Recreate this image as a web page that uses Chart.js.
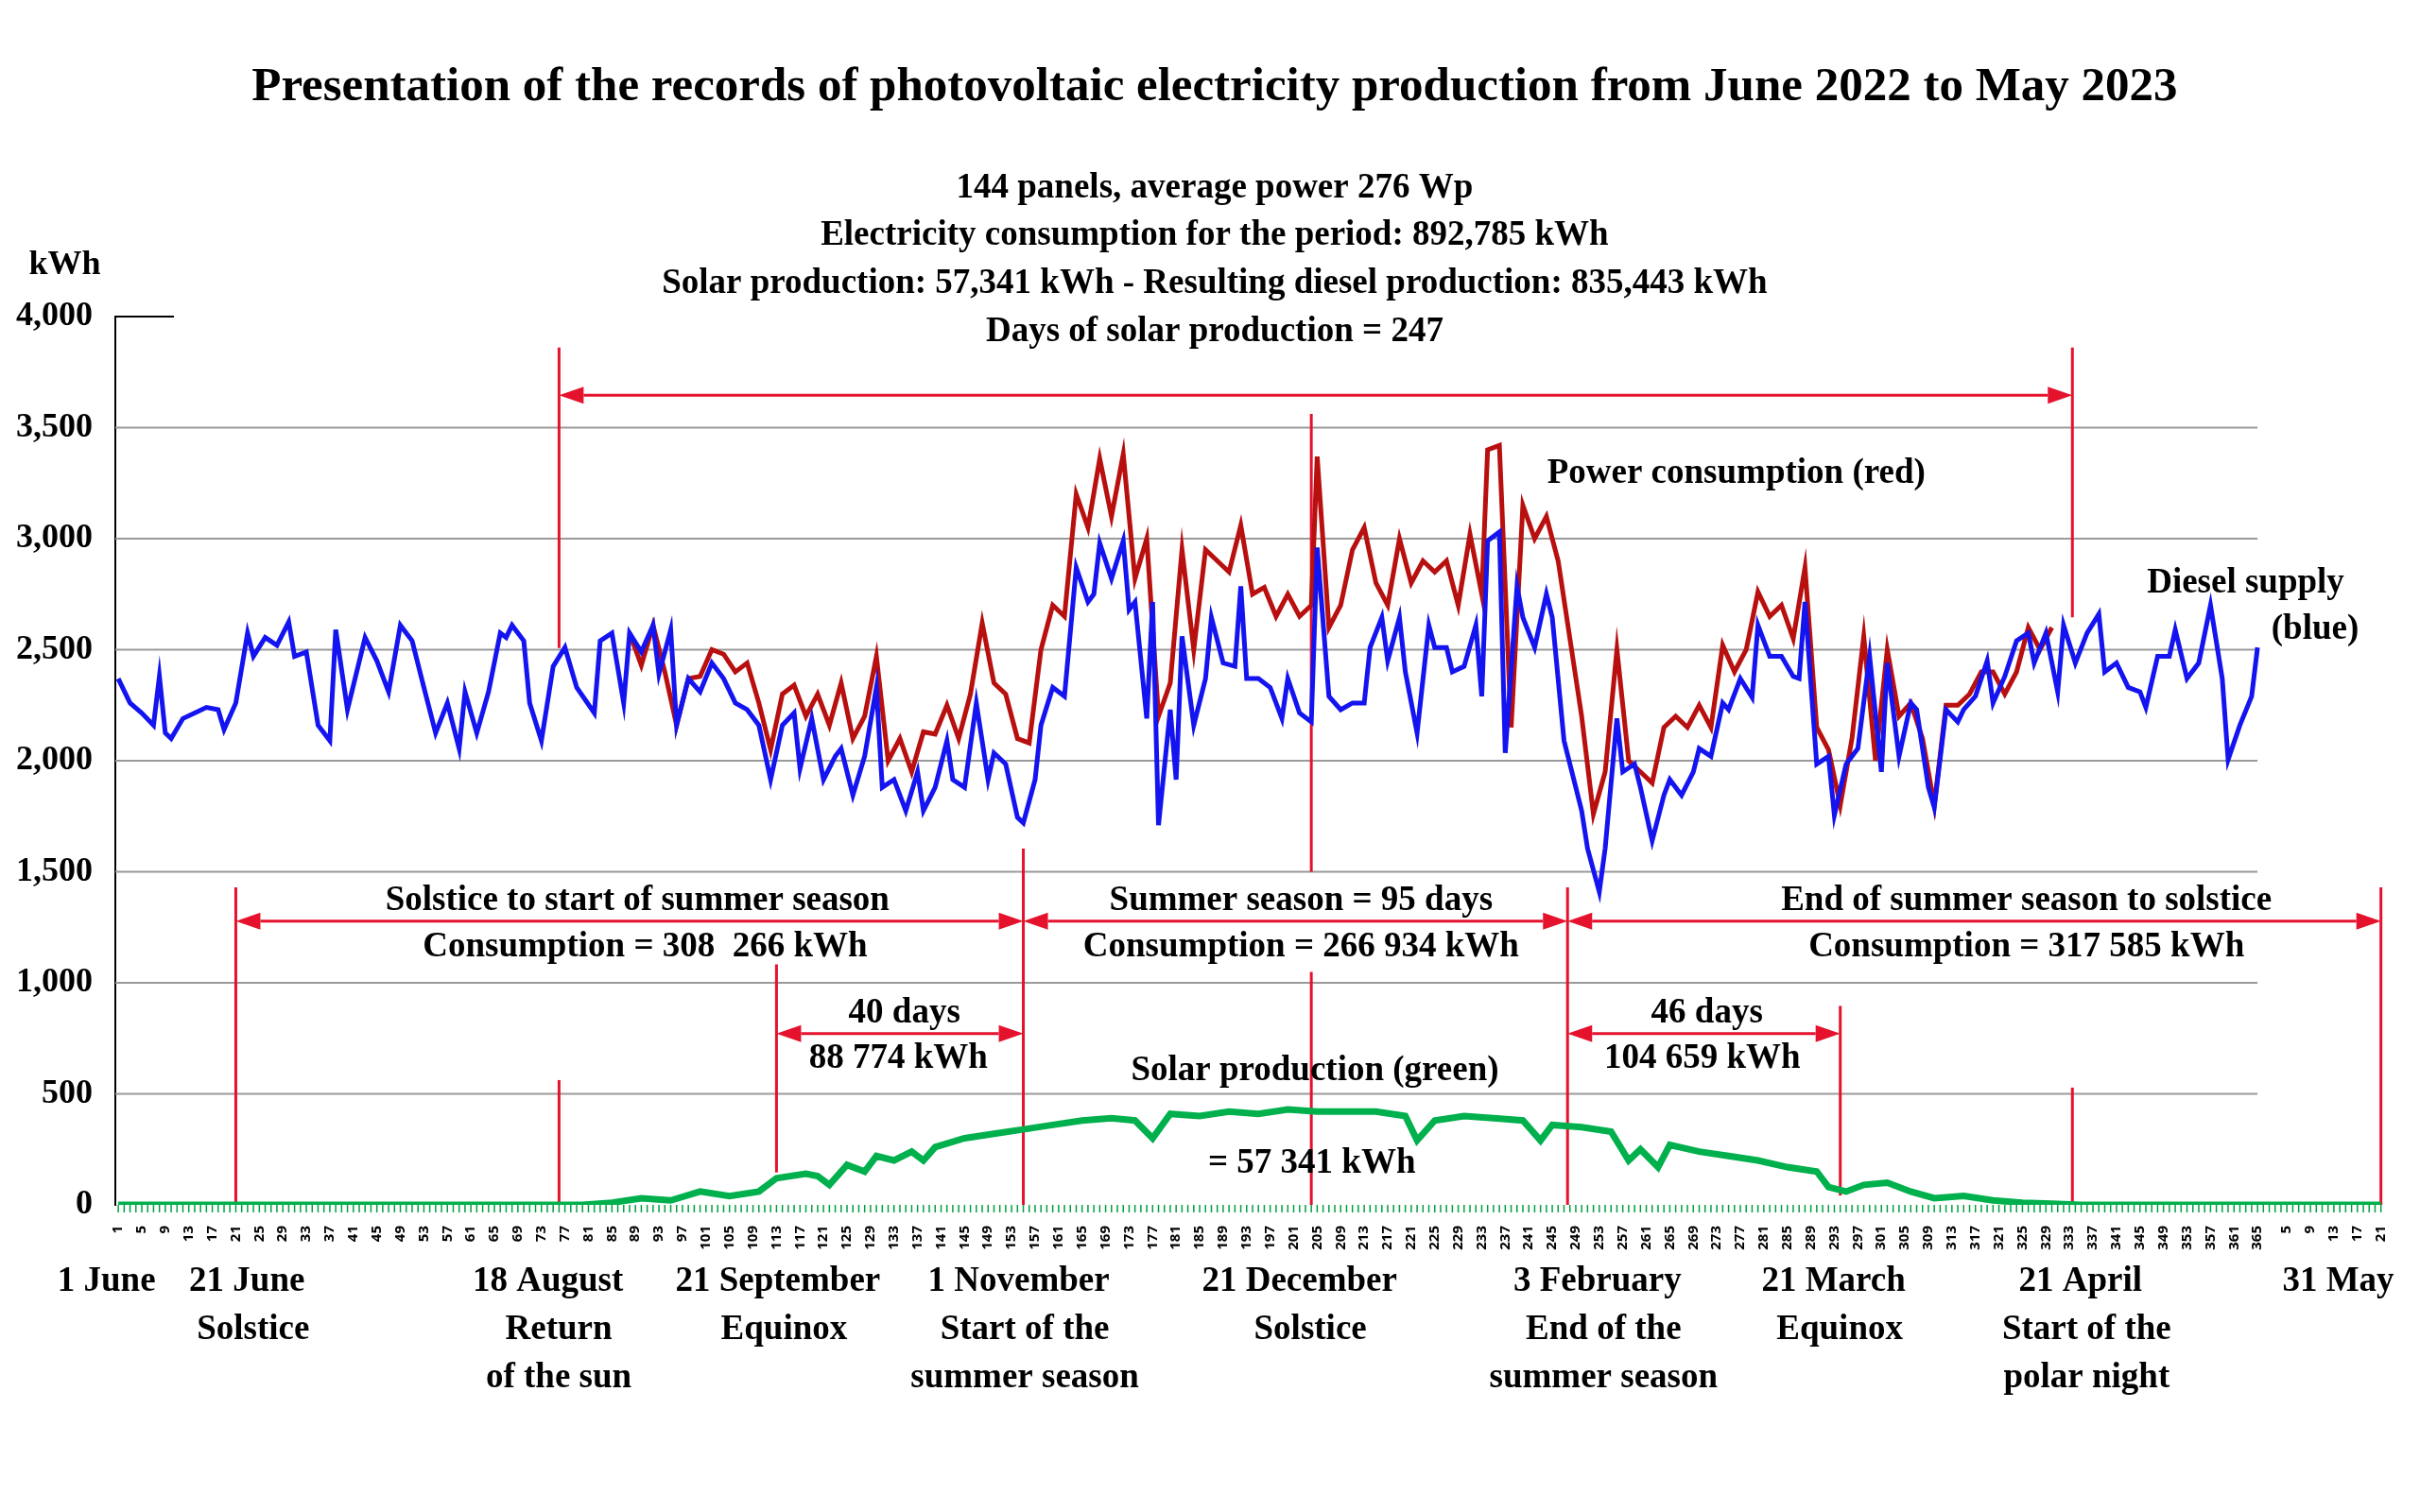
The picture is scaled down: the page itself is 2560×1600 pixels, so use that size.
<!DOCTYPE html>
<html><head><meta charset="utf-8">
<script src="https://cdn.jsdelivr.net/npm/chart.js@4"></script>
<style>html,body{margin:0;padding:0;background:#fff}#wrap{width:2560px;height:1600px}</style>
</head><body><div id="wrap"><canvas id="c" width="2560" height="1600" style="width:2560px;height:1600px"></canvas></div>
<script>
const blueDays=[1,3,5,7,8,9,10,12,14,16,18,19,21,23,24,26,28,30,31,33,35,37,38,40,43,45,47,49,51,53,55,57,59,60,62,64,66,67,68,70,71,73,75,77,79,82,83,85,87,88,90,92,93,95,96,98,100,102,104,106,108,110,112,114,116,117,119,121,123,124,126,128,130,131,133,135,137,138,140,142,143,145,147,149,150,152,154,155,157,158,160,162,164,166,167,168,170,172,173,174,176,177,178,180,181,182,184,186,187,189,191,192,193,195,197,199,200,202,204,205,207,209,211,213,214,216,217,219,220,222,224,225,227,228,230,232,233,234,236,237,239,240,242,244,245,247,249,250,251,253,254,256,257,259,260,262,264,265,267,269,270,272,274,275,277,279,280,282,284,286,287,288,290,292,293,295,297,299,301,302,304,306,307,309,310,312,314,315,317,319,320,322,324,326,327,329,331,332,334,336,338,339,341,343,345,346,348,350,351,353,355,357,359,360,362,364,365];
const blueValues=[2370,2260,2215,2160,2380,2125,2100,2190,2215,2240,2230,2140,2260,2575,2470,2555,2520,2625,2470,2490,2160,2090,2590,2230,2555,2450,2310,2610,2540,2330,2125,2260,2055,2310,2125,2310,2575,2555,2610,2540,2260,2090,2425,2510,2330,2215,2540,2575,2260,2575,2490,2610,2390,2590,2160,2370,2310,2440,2370,2260,2230,2160,1915,2160,2215,1965,2190,1915,2020,2055,1845,2020,2330,1880,1915,1775,1950,1775,1880,2090,1915,1880,2260,1915,2035,1985,1745,1720,1915,2160,2330,2290,2870,2715,2750,2980,2820,2990,2680,2715,2190,2715,1710,2230,1915,2560,2160,2370,2645,2440,2425,2785,2370,2370,2330,2190,2370,2215,2175,2960,2290,2230,2260,2260,2510,2645,2450,2645,2400,2125,2610,2510,2510,2400,2425,2610,2290,2990,3030,2035,2785,2645,2510,2750,2645,2090,1880,1775,1605,1410,1605,2190,1950,1985,1880,1640,1845,1915,1845,1950,2055,2020,2260,2230,2370,2285,2610,2470,2470,2380,2370,2715,1985,2020,1755,1985,2055,2470,1950,2440,2020,2260,2230,1880,1790,2230,2175,2230,2290,2450,2260,2380,2540,2575,2440,2575,2310,2610,2440,2575,2660,2400,2440,2330,2310,2240,2470,2470,2590,2370,2440,2700,2370,2005,2160,2290,2510];
const redDays=[88,90,92,94,96,98,100,102,104,106,108,110,112,114,116,118,120,122,124,126,128,130,132,134,136,138,140,142,144,146,148,150,152,154,156,158,160,162,164,166,168,170,172,174,176,178,180,182,184,186,188,190,192,194,196,198,200,202,204,205,207,209,211,213,215,217,219,221,223,225,227,229,231,233,234,236,238,240,242,244,246,248,250,252,254,256,258,260,262,264,266,268,270,272,274,276,278,280,282,284,286,288,290,292,294,296,298,300,302,304,306,308,310,312,314,316,318,320,322,324,326,328,330];
const redValues=[2575,2430,2610,2400,2160,2370,2380,2500,2480,2400,2440,2260,2050,2300,2340,2200,2300,2160,2350,2100,2200,2470,2000,2100,1950,2130,2120,2250,2100,2300,2620,2350,2300,2100,2080,2500,2700,2650,3200,3050,3360,3100,3380,2820,3000,2200,2350,2950,2500,2950,2900,2850,3060,2750,2780,2650,2750,2650,2700,3370,2600,2700,2950,3050,2800,2700,3000,2800,2900,2850,2900,2700,3020,2750,3400,3420,2150,3150,3000,3100,2900,2550,2200,1760,1950,2500,2000,1950,1900,2150,2200,2150,2250,2150,2520,2400,2500,2760,2650,2700,2550,2870,2150,2050,1800,2100,2560,2000,2500,2200,2260,2100,1800,2250,2250,2300,2400,2400,2300,2400,2600,2500,2600];
const greenDays=[1,80,85,90,95,100,105,110,113,118,120,122,125,128,130,133,136,138,140,145,150,155,160,165,170,174,177,180,185,190,195,200,205,210,215,220,222,225,230,235,240,243,245,250,255,258,260,263,265,270,275,280,285,290,292,295,298,302,306,310,315,320,325,330,335,386];
const greenValues=[0,0,10,30,20,60,40,60,120,140,130,90,180,150,220,200,240,200,260,300,320,340,360,380,390,380,300,410,400,420,410,430,420,420,420,400,290,380,400,390,380,290,360,350,330,200,250,170,270,240,220,200,170,150,80,60,90,100,60,30,40,20,10,5,0,0];
const tickDays=[];for(let d=1;d<=365;d+=4)tickDays.push(d);for(let d=370;d<=386;d+=4)tickDays.push(d);
const tickLabels=tickDays.map(d=>d>365?String(d-365):String(d));
const yTicks=[0,500,1000,1500,2000,2500,3000,3500,4000];

const S=2560/1568;
const serif='"Liberation Serif","Times New Roman",serif';
const pts=(xs,ys)=>xs.map((x,i)=>({x:x,y:ys[i]}));
const RED='#e5122d';
function arrow(ctx,x1,x2,y){
  const h=26,w=9;ctx.strokeStyle=RED;ctx.fillStyle=RED;ctx.lineWidth=3;
  ctx.beginPath();ctx.moveTo(x1+h,y);ctx.lineTo(x2-h,y);ctx.stroke();
  ctx.beginPath();ctx.moveTo(x1,y);ctx.lineTo(x1+h,y-w);ctx.lineTo(x1+h,y+w);ctx.closePath();ctx.fill();
  ctx.beginPath();ctx.moveTo(x2,y);ctx.lineTo(x2-h,y-w);ctx.lineTo(x2-h,y+w);ctx.closePath();ctx.fill();
}
const deco={id:'deco',
 beforeDatasetsDraw(c){
  const ctx=c.ctx,xs=c.scales.x,ys=c.scales.y;ctx.save();
  ctx.strokeStyle='#9a9a9a';ctx.lineWidth=2;
  for(const v of yTicks){if(v===0||v===4000)continue;const y=ys.getPixelForValue(v);
   ctx.beginPath();ctx.moveTo(xs.left,y);ctx.lineTo(xs.getPixelForValue(365),y);ctx.stroke();}
  ctx.strokeStyle='#000';ctx.beginPath();const y4=ys.getPixelForValue(4000);ctx.moveTo(xs.left,y4);ctx.lineTo(xs.left+62,y4);ctx.stroke();
  ctx.strokeStyle='#00a040';ctx.lineWidth=1.5;const yb=ys.getPixelForValue(0);
  for(let d=1;d<=386;d++){const x=xs.getPixelForValue(d);ctx.beginPath();ctx.moveTo(x,yb);ctx.lineTo(x,yb+8);ctx.stroke();}
  ctx.strokeStyle=RED;ctx.lineWidth=3;
  const vl=[[21,1430,0],[76,3861,2507],[76,562,0],[113,1083,146],[155,1604,0],[204,3562,1500],[204,1049,0],[247.6,1430,0],[294,896,42],[333.5,3861,2646],[333.5,528,0],[386,1430,0]];
  for(const [d,a,b] of vl){const x=xs.getPixelForValue(d);ctx.beginPath();ctx.moveTo(x,ys.getPixelForValue(a));ctx.lineTo(x,ys.getPixelForValue(b));ctx.stroke();}
  const X=d=>xs.getPixelForValue(d),Y=v=>ys.getPixelForValue(v);
  arrow(ctx,X(76),X(333.5),Y(3646));
  arrow(ctx,X(21),X(155),Y(1278));arrow(ctx,X(155),X(247.6),Y(1278));arrow(ctx,X(247.6),X(386),Y(1278));
  arrow(ctx,X(113),X(155),Y(771));arrow(ctx,X(247.6),X(294),Y(771));
  ctx.restore();
 },
 afterDraw(c){
  const ctx=c.ctx;ctx.save();ctx.fillStyle='#000';ctx.textAlign='center';ctx.textBaseline='middle';
  const T=(t,x,y,sz)=>{ctx.font='bold '+sz+'px '+serif;ctx.fillText(t,x*S,y*S);};
  T('Presentation of the records of photovoltaic electricity production from June 2022 to May 2023',787,57,51);
  const sub=['144 panels, average power 276 Wp','Electricity consumption for the period: 892,785 kWh','Solar production: 57,341 kWh - Resulting diesel production: 835,443 kWh','Days of solar production = 247'];
  sub.forEach((s,i)=>T(s,787,122+31*i,37));
  T('kWh',42,172,36);
  T('Power consumption (red)',1125,307,37);T('Diesel supply',1455,378,37);T('(blue)',1500,408,37);
  T('Solstice to start of summer season',413,584,37);T('Consumption = 308  266 kWh',418,614,37);
  T('Summer season = 95 days',843,584,37);T('Consumption = 266 934 kWh',843,614,37);
  T('End of summer season to solstice',1313,584,37);T('Consumption = 317 585 kWh',1313,614,37);
  T('40 days',586,657,37);T('88 774 kWh',582,686,37);T('46 days',1106,657,37);T('104 659 kWh',1103,686,37);
  T('Solar production (green)',852,694,37);T('= 57 341 kWh',850,754,37);
  const B=[['1 June',69,[]],['21 June',160,['Solstice']],['18 August',355,['Return','of the sun']],['21 September',504,['Equinox']],['1 November',660,['Start of the','summer season']],['21 December',842,['Solstice']],['3 February',1035,['End of the','summer season']],['21 March',1188,['Equinox']],['21 April',1348,['Start of the','polar night']],['31 May',1515,[]]];
  for(const [a,x,rest] of B){T(a,x,831,37);rest.forEach((r,i)=>T(r,x+(a==='18 August'||a==='21 December'?7:4),862+31*i,37));}
  ctx.restore();
 }};
new Chart(document.getElementById('c'),{
 type:'line',
 data:{datasets:[
  {label:'Diesel supply',data:pts(blueDays,blueValues),borderColor:'#1414f0',borderWidth:5,pointRadius:0,tension:0,order:1},
  {label:'Power consumption',data:pts(redDays,redValues),borderColor:'#b80f0f',borderWidth:5,pointRadius:0,tension:0,order:2},
  {label:'Solar production',data:pts(greenDays,greenValues),borderColor:'#00b04c',borderWidth:7,pointRadius:0,tension:0,order:0}
 ]},
 options:{responsive:false,animation:false,devicePixelRatio:1,
  layout:{padding:{left:0,right:32,top:335,bottom:0}},
  plugins:{legend:{display:false},tooltip:{enabled:false}},
  scales:{
   x:{type:'linear',min:0.5,max:387.5,grid:{display:false},border:{display:false},
    afterBuildTicks:s=>{s.ticks=tickDays.map(v=>({value:v}));},
    afterFit:s=>{s.height=325;},
    ticks:{autoSkip:false,maxRotation:90,minRotation:90,padding:14,color:'#000',font:{family:'"Open Sans"',size:15,weight:'bold'},
     callback:v=>{const i=tickDays.indexOf(v);return i<0?'':tickLabels[i];}}},
   y:{min:0,max:4000,grid:{display:false},border:{display:true,color:'#000',width:2},
    afterBuildTicks:s=>{s.ticks=yTicks.map(v=>({value:v}));},
    afterFit:s=>{s.width=122;},
    ticks:{color:'#000',padding:16,font:{family:serif,size:36,weight:'bold'}}}
  }},
 plugins:[deco]
});
</script></body></html>
